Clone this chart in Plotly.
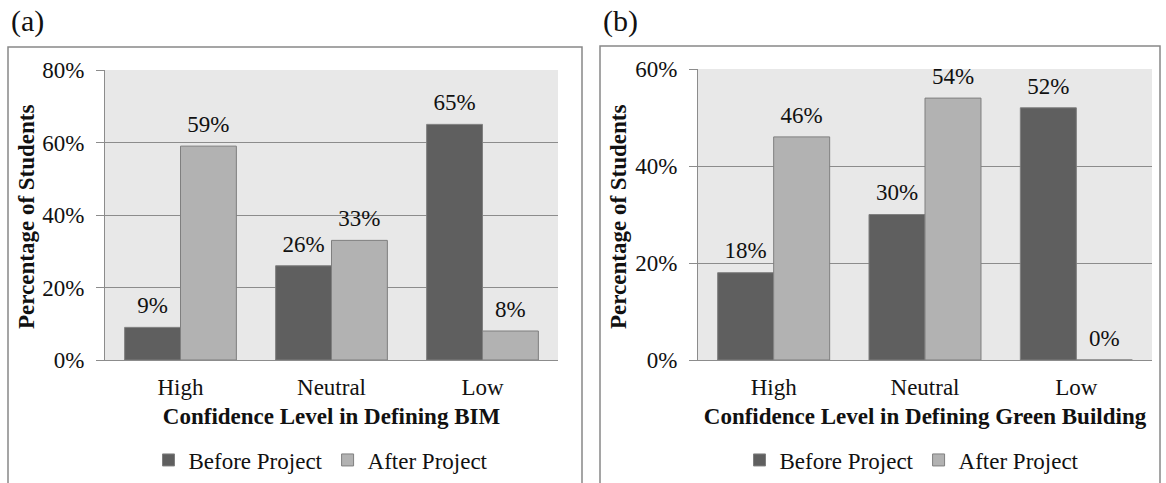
import plotly.graph_objects as go

categories = ["High", "Neutral", "Low"]
bim_before = [9, 26, 65]
bim_after = [59, 33, 8]
gb_before = [18, 30, 52]
gb_after = [46, 54, 0]
series_names = ["Before Project", "After Project"]
xtitle_a = "Confidence Level in Defining BIM"
xtitle_b = "Confidence Level in Defining Green Building"
ytitle = "Percentage of Students"

W, H = 1166, 483
FONT = "Liberation Serif, Times New Roman, serif"
FS = 23
DARK = "#5f5f5f"
LIGHT = "#b2b2b2"
EDGE = "#7f7f7f"
GRID = "#8c8c8c"
GAP = 0.26


def px(x):
    return x / W


def py(y):
    return 1 - y / H


fig = go.Figure()

for vals, name, col, xa, ya, lg, grp in [
    (bim_before, series_names[0], DARK, "x", "y", "legend", "b"),
    (bim_after, series_names[1], LIGHT, "x", "y", "legend", "a"),
    (gb_before, series_names[0], DARK, "x2", "y2", "legend2", "b"),
    (gb_after, series_names[1], LIGHT, "x2", "y2", "legend2", "a"),
]:
    fig.add_trace(go.Bar(
        x=categories, y=vals, name=name, xaxis=xa, yaxis=ya, legend=lg,
        offsetgroup=grp,
        marker=dict(color=col, line=dict(color=EDGE, width=1)),
        hoverinfo="x+y",
    ))
    # value labels, grouped like the bars
    fig.add_trace(go.Scatter(
        x=categories, y=vals, xaxis=xa, yaxis=ya, offsetgroup=grp,
        mode="markers+text", marker=dict(size=12, opacity=0),
        text=[f"{v}%" for v in vals], textposition="top center",
        textfont=dict(family=FONT, size=FS, color="#111"),
        showlegend=False, hoverinfo="skip", cliponaxis=False,
    ))

axis_common = dict(
    showline=True, linecolor=GRID, linewidth=1, automargin=False,
    tickfont=dict(family=FONT, size=FS, color="#111"),
)

fig.update_layout(
    template="none",
    width=W, height=H,
    margin=dict(l=0, r=0, t=0, b=0, autoexpand=False),
    paper_bgcolor="white",
    plot_bgcolor="#e8e8e8",
    barmode="group", bargap=GAP, bargroupgap=0,
    scattermode="group", scattergap=GAP,
    font=dict(family=FONT, color="#111"),
    xaxis=dict(domain=[px(105), px(558)], anchor="y", ticks="", showgrid=False,
               ticklabelstandoff=6,
               title=dict(text=f"<b>{xtitle_a}</b>", font=dict(family=FONT, size=FS), standoff=9),
               **axis_common),
    yaxis=dict(domain=[py(360), py(70)], anchor="x", range=[0, 80], dtick=20,
               ticksuffix="%", ticks="outside", ticklen=8, tickcolor=GRID,
               gridcolor=GRID, gridwidth=1, zeroline=False, ticklabelstandoff=7,
               **axis_common),
    xaxis2=dict(domain=[px(698), px(1152)], anchor="y2", ticks="", showgrid=False,
                ticklabelstandoff=6,
                title=dict(text=f"<b>{xtitle_b}</b>", font=dict(family=FONT, size=FS), standoff=9),
                **axis_common),
    yaxis2=dict(domain=[py(360), py(69)], anchor="x2", range=[0, 60], dtick=20,
                ticksuffix="%", ticks="outside", ticklen=8, tickcolor=GRID,
                gridcolor=GRID, gridwidth=1, zeroline=False, ticklabelstandoff=7,
                **axis_common),
    legend=dict(orientation="h", x=px(321), xanchor="center", y=py(460), yanchor="middle",
                font=dict(family=FONT, size=FS), itemwidth=30, bgcolor="rgba(0,0,0,0)"),
    legend2=dict(orientation="h", x=px(912), xanchor="center", y=py(460), yanchor="middle",
                 font=dict(family=FONT, size=FS), itemwidth=30, bgcolor="rgba(0,0,0,0)"),
    shapes=[
        dict(type="rect", xref="paper", yref="paper", x0=px(8), x1=px(582), y0=py(495), y1=py(47),
             line=dict(color="#888", width=1.5), fillcolor="rgba(0,0,0,0)", layer="below"),
        dict(type="rect", xref="paper", yref="paper", x0=px(600), x1=px(1160), y0=py(495), y1=py(46),
             line=dict(color="#888", width=1.5), fillcolor="rgba(0,0,0,0)", layer="below"),
    ],
    annotations=[
        dict(text="(a)", xref="paper", yref="paper", x=px(9), y=py(21), xanchor="left", yanchor="middle",
             showarrow=False, font=dict(family=FONT, size=30, color="#111")),
        dict(text="(b)", xref="paper", yref="paper", x=px(601), y=py(21), xanchor="left", yanchor="middle",
             showarrow=False, font=dict(family=FONT, size=30, color="#111")),
        dict(text=f"<b>{ytitle}</b>", xref="paper", yref="paper", x=px(26), y=py(217), textangle=-90,
             xanchor="center", yanchor="middle",
             showarrow=False, font=dict(family=FONT, size=FS, color="#111")),
        dict(text=f"<b>{ytitle}</b>", xref="paper", yref="paper", x=px(618), y=py(217), textangle=-90,
             xanchor="center", yanchor="middle",
             showarrow=False, font=dict(family=FONT, size=FS, color="#111")),
    ],
)

fig.write_html("out.html", config={"displayModeBar": False},
               post_script="document.body.style.margin='0px';")
